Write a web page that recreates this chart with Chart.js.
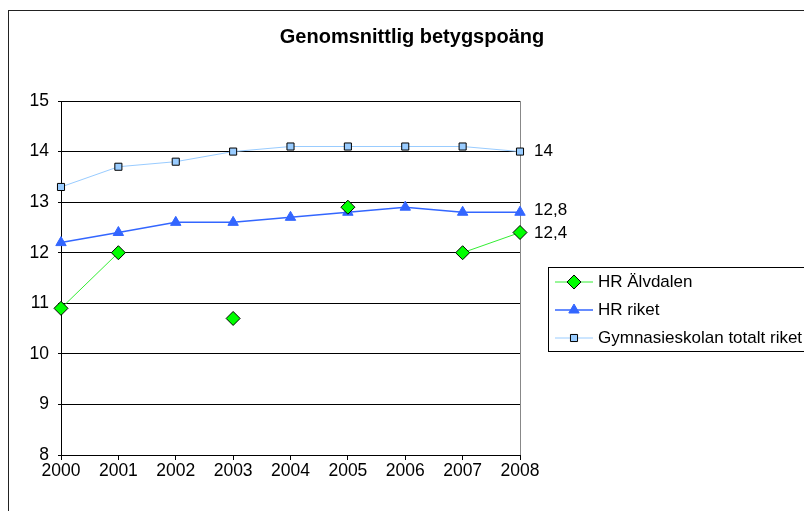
<!DOCTYPE html>
<html>
<head>
<meta charset="utf-8">
<script src="https://cdn.jsdelivr.net/npm/chart.js@4.4.1/dist/chart.umd.min.js"></script>
<style>
  html, body { margin: 0; padding: 0; background: #fff; }
  #wrap { width: 804px; height: 511px; }
</style>
</head>
<body>
<div id="wrap"><canvas id="chart" width="804" height="511"></canvas></div>
<script>
// data
const years = ['2000', '2001', '2002', '2003', '2004', '2005', '2006', '2007', '2008'];
const hrAlvdalen = [10.9, 12.0, null, 10.7, null, 12.9, null, 12.0, 12.4];
const hrRiket = [12.2, 12.4, 12.6, 12.6, 12.7, 12.8, 12.9, 12.8, 12.8];
const gymnasieTotalt = [13.3, 13.7, 13.8, 14.0, 14.1, 14.1, 14.1, 14.1, 14.0];
const yTicks = [8, 9, 10, 11, 12, 13, 14, 15];

const FONT = 'Arial, "Liberation Sans", sans-serif';

// outer frame, title, right plot border, end labels, legend
const decorPlugin = {
    id: 'decor',
    beforeDraw(chart) {
        const ctx = chart.ctx;
        ctx.save();
        ctx.fillStyle = '#fff';
        ctx.fillRect(0, 0, chart.width, chart.height);
        ctx.strokeStyle = '#222';
        ctx.lineWidth = 1;
        ctx.strokeRect(8.5, 10.5, 1000, 1000);
        ctx.restore();
    },
    beforeDatasetsDraw(chart) {
        const ctx = chart.ctx;
        const area = chart.chartArea;
        ctx.save();
        ctx.strokeStyle = '#888';
        ctx.lineWidth = 1;
        ctx.beginPath();
        ctx.moveTo(Math.round(area.right) + 0.5, area.top);
        ctx.lineTo(Math.round(area.right) + 0.5, area.bottom);
        ctx.stroke();
        ctx.restore();
    },
    afterDatasetsDraw(chart) {
        const ctx = chart.ctx;
        ctx.save();

        // title
        ctx.fillStyle = '#000';
        ctx.font = 'bold 20px ' + FONT;
        ctx.textAlign = 'center';
        ctx.textBaseline = 'middle';
        ctx.fillText('Genomsnittlig betygspoäng', 412, 37);

        // end-of-series labels
        ctx.font = '17px ' + FONT;
        ctx.textAlign = 'left';
        const last = years.length - 1;
        const labelFor = (dsIndex, dy) => {
            const pt = chart.getDatasetMeta(dsIndex).data[last];
            const v = chart.data.datasets[dsIndex].data[last];
            ctx.fillText(String(v).replace('.', ','), pt.x + 14, pt.y + dy);
        };
        labelFor(2, 0);
        labelFor(1, -2);
        labelFor(0, 1);

        // legend
        const lx = 548, ly = 267;
        ctx.strokeStyle = '#000';
        ctx.lineWidth = 1;
        ctx.strokeRect(lx + 0.5, ly + 0.5, 400, 84);
        chart.data.datasets.forEach((ds, i) => {
            const y = ly + 15 + i * 28;
            ctx.strokeStyle = ds.borderColor;
            ctx.lineWidth = ds.borderWidth;
            ctx.beginPath();
            ctx.moveTo(lx + 7, y);
            ctx.lineTo(lx + 45, y);
            ctx.stroke();
            ctx.fillStyle = ds.pointBackgroundColor;
            ctx.strokeStyle = ds.pointBorderColor;
            ctx.lineWidth = ds.pointBorderWidth;
            Chart.helpers.drawPoint(ctx, {
                pointStyle: ds.pointStyle,
                radius: ds.pointRadius,
                borderWidth: ds.pointBorderWidth
            }, lx + 26, y);
            ctx.fillStyle = '#000';
            ctx.fillText(ds.label, lx + 50, y);
        });

        ctx.restore();
    }
};

new Chart(document.getElementById('chart'), {
    type: 'line',
    data: {
        labels: years,
        datasets: [
            {
                label: 'HR Älvdalen',
                data: hrAlvdalen,
                borderColor: '#33ee33',
                borderWidth: 1,
                pointStyle: 'rectRot',
                pointRadius: 7,
                pointBackgroundColor: '#00ff00',
                pointBorderColor: '#000',
                pointBorderWidth: 1,
                spanGaps: false
            },
            {
                label: 'HR riket',
                data: hrRiket,
                borderColor: '#3366ff',
                borderWidth: 1.5,
                pointStyle: 'triangle',
                pointRadius: 6,
                pointBackgroundColor: '#3366ff',
                pointBorderColor: '#3366ff',
                pointBorderWidth: 1
            },
            {
                label: 'Gymnasieskolan totalt riket',
                data: gymnasieTotalt,
                borderColor: '#99ccff',
                borderWidth: 1,
                pointStyle: 'rect',
                pointRadius: 5,
                pointBackgroundColor: '#99ccff',
                pointBorderColor: '#000',
                pointBorderWidth: 1
            }
        ]
    },
    options: {
        responsive: false,
        animation: false,
        layout: { padding: { left: 0, top: 101, right: 284, bottom: 0 } },
        plugins: {
            legend: { display: false },
            title: { display: false },
            tooltip: { enabled: false }
        },
        elements: { line: { tension: 0 } },
        scales: {
            x: {
                offset: false,
                afterFit: (s) => { s.height = 56; },
                grid: { drawOnChartArea: false, color: '#000', tickLength: 5 },
                border: { color: '#000', width: 1 },
                ticks: { color: '#000', font: { family: FONT, size: 17.5 }, padding: 1, maxRotation: 0, autoSkip: false }
            },
            y: {
                min: 8,
                max: 15,
                afterFit: (s) => { s.width = 61; },
                afterBuildTicks: (s) => { s.ticks = yTicks.map(v => ({ value: v })); },
                grid: { color: '#000', tickLength: 3 },
                border: { color: '#000', width: 1 },
                ticks: { color: '#000', font: { family: FONT, size: 17.5 }, padding: 9 }
            }
        }
    },
    plugins: [decorPlugin]
});
</script>
</body>
</html>
